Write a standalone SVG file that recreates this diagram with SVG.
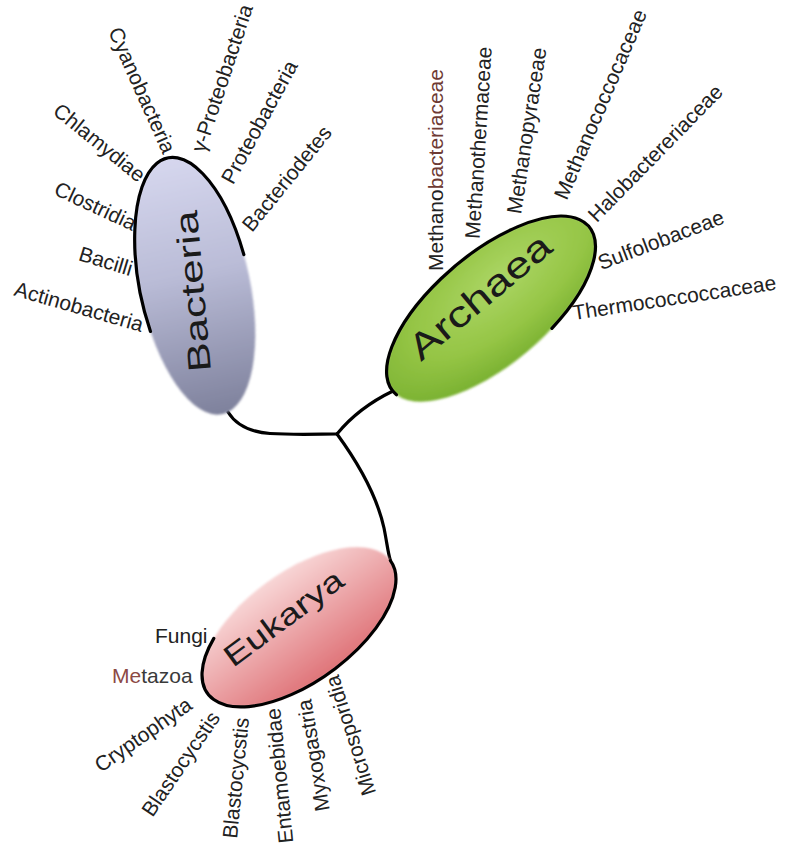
<svg xmlns="http://www.w3.org/2000/svg" width="785" height="847" viewBox="0 0 785 847">
<style>
.lbl{font-family:"Liberation Sans",Arial,sans-serif;font-size:21px;fill:#222}
.end{text-anchor:end}
.dom{font-family:"Liberation Sans",Arial,sans-serif;fill:#1a1a1a}
.arc{fill:none;stroke:#000;stroke-width:3.2;stroke-linecap:round}
.con{fill:none;stroke:#000;stroke-width:3.2;stroke-linecap:round;stroke-linejoin:round}
</style>
<defs>
<filter id="soft" x="-10%" y="-10%" width="120%" height="120%"><feGaussianBlur stdDeviation="1.2"/></filter>
<linearGradient id="gB" x1="0" y1="0" x2="0" y2="1">
<stop offset="0" stop-color="#d6d7ee"/><stop offset="0.45" stop-color="#babcd7"/><stop offset="1" stop-color="#7e819c"/>
</linearGradient>
<radialGradient id="gA" cx="0.6" cy="0.35" r="0.7">
<stop offset="0" stop-color="#acd665"/><stop offset="0.6" stop-color="#95c545"/><stop offset="1" stop-color="#78b030"/>
</radialGradient>
<linearGradient id="gE" x1="0" y1="0" x2="0" y2="1">
<stop offset="0" stop-color="#f8d6d6"/><stop offset="1" stop-color="#df7479"/>
</linearGradient>
</defs>
<rect width="785" height="847" fill="#fff"/>

<g id="connectors">
<path class="con" d="M 228 412 C 236 425, 250 432, 270 433.5 C 295 435, 320 434, 337 434"/>
<path class="con" d="M 337 434 C 350 418, 366 404, 393 391"/>
<path class="con" d="M 337 434 C 356 460, 376 492, 384 528 C 387 543, 388 553, 390.4 560.6"/>
</g>

<g id="bacteria">
<g transform="translate(195,286) rotate(-12)">
<ellipse rx="55" ry="131" fill="url(#gB)" filter="url(#soft)"/>
<path class="arc" d="M -53 35.2 A 55 131 0 1 1 54.3 -20.5"/>
</g>
<text class="dom" font-size="32" transform="translate(211,371) rotate(-95) scale(1.38,1)">Bacteria</text>
<g id="bacteria-taxa">
<text class="lbl end" transform="translate(141,332) rotate(16)">Actinobacteria</text>
<text class="lbl end" transform="translate(130,276) rotate(17)">Bacilli</text>
<text class="lbl end" transform="translate(132,231) rotate(25)">Clostridia</text>
<text class="lbl end" transform="translate(138,183) rotate(39)">Chlamydiae</text>
<text class="lbl end" transform="translate(163,155) rotate(66)">Cyanobacteria</text>
<text class="lbl" transform="translate(204.6,153.6) rotate(-71.6)">γ-Proteobacteria</text>
<text class="lbl" transform="translate(233,185.4) rotate(-61.4)">Proteobacteria</text>
<text class="lbl" transform="translate(252,233) rotate(-51)">Bacteriodetes</text>
</g>
</g>

<g id="archaea">
<g transform="translate(491,309) rotate(-40)">
<ellipse rx="128" ry="56" fill="url(#gA)" filter="url(#soft)"/>
<path class="arc" d="M -127.5 4.9 A 128 56 0 1 1 34.2 54"/>
</g>
<text class="dom" font-size="36" transform="translate(421,362) rotate(-40) scale(1.3,1)">Archaea</text>
<g id="archaea-taxa">
<text class="lbl" transform="translate(443,271) rotate(-90)">Methano<tspan fill="#6e3a33">bacteriaceae</tspan></text>
<text class="lbl" transform="translate(479.4,239.2) rotate(-86.3)">Methanothermaceae</text>
<text class="lbl" transform="translate(521,214.8) rotate(-81.3)">Methanopyraceae</text>
<text class="lbl" transform="translate(566.8,201) rotate(-66.8)">Methanococcocaceae</text>
<text class="lbl" transform="translate(596.8,223.2) rotate(-45.6)">Halobactereriaceae</text>
<text class="lbl" transform="translate(601.2,270.2) rotate(-20.8)">Sulfolobaceae</text>
<text class="lbl" transform="translate(573.8,320) rotate(-8.5)">Thermococcoccaceae</text>
</g>
</g>

<g id="eukarya">
<g transform="translate(299,627) rotate(-36)">
<ellipse rx="113" ry="55" fill="url(#gE)" filter="url(#soft)"/>
<path class="arc" d="M 113 0 A 113 55 0 1 1 -75.6 -40.9"/>
</g>
<text class="dom" font-size="30" transform="translate(233,668) rotate(-36.5) scale(1.28,1)">Eukarya</text>
<g id="eukarya-taxa">
<text class="lbl" x="155" y="643">Fungi</text>
<text class="lbl" x="112" y="683"><tspan fill="#8c4a44">Me</tspan><tspan fill="#3a3a3a">tazoa</tspan></text>
<text class="lbl end" transform="translate(193.7,708) rotate(-35)">Cryptophyta</text>
<text class="lbl end" transform="translate(220.8,717.8) rotate(-55.7)">Blastocycstis</text>
<text class="lbl end" transform="translate(249,718.3) rotate(-84.3)">Blastocycstis</text>
<text class="lbl end" transform="translate(280,707.7) rotate(-95.6)">Entamoebidae</text>
<text class="lbl end" transform="translate(311.2,698.4) rotate(-99.4)">Myxogastria</text>
<text class="lbl end" transform="translate(338.4,673.8) rotate(-107.6)">Microsporidia</text>
</g>
</g>
</svg>
